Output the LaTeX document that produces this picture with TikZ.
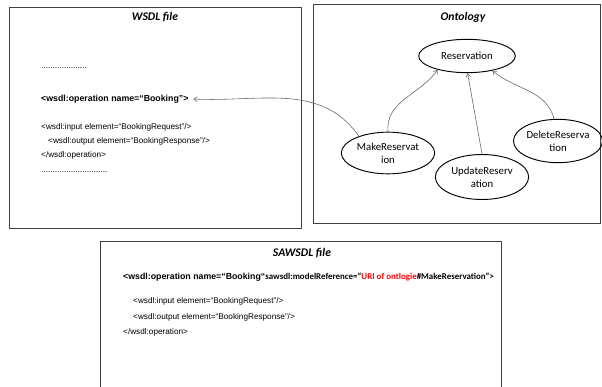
\documentclass[tikz,border=0pt]{standalone}
\usepackage{fontspec}
\setmainfont{Liberation Sans}
\newfontfamily\calib{Carlito}
\usetikzlibrary{arrows.meta}
\usetikzlibrary{shapes.geometric}

\begin{document}
\begin{tikzpicture}[x=0.03cm,y=-0.03cm,
  frame/.style={draw=black!75,line width=.7pt},
  title/.style={font=\calib\bfseries\itshape\fontsize{10}{12}\selectfont},
  code/.style={anchor=west,inner sep=0pt,font=\fontsize{7}{8}\selectfont},
  boldcode/.style={code,font=\bfseries\fontsize{7.5}{9}\selectfont},
  concept/.style={ellipse,draw,line width=.8pt,inner sep=0pt,align=center,font=\calib\fontsize{9.2}{11}\selectfont,minimum width=2.8cm,minimum height=1.25cm},
  link/.style={draw=black!60,line width=.5pt,-{Straight Barb[length=3pt,width=4pt]}}]
\useasboundingbox (0,0) rectangle (602,387);

\draw[frame] (9,7) rectangle (301,228);
\draw[frame] (313,4) rectangle (600,223);
\draw[frame] (100,392) -- (100,241) -- (501,241) -- (501,392);

\node[title] (wtitle) at (155,17) {WSDL file};
\node[title] (otitle) at (463,17) {Ontology};
\node[title] (stitle) at (302,253) {SAWSDL file};

\node[code] (wdots1) at (41,68) {....................};
\node[boldcode] (wop) at (41,99) {<wsdl:operation name=“Booking”>};
\node[code] (win) at (41,127) {<wsdl:input element=“BookingRequest”/>};
\node[code] (wout) at (48,141) {<wsdl:output element=“BookingResponse”/>};
\node[code] (wend) at (41,155) {</wsdl:operation>};
\node[code] (wdots2) at (41,172) {.............................};

\node[concept,minimum width=2.9cm,minimum height=1cm] (resv) at (467,56) {Reservation};
\node[concept] (make) at (388,153) {MakeReservat\\ion};
\node[concept,minimum height=1.35cm] (update) at (482,177) {UpdateReserv\\ation};
\node[concept,minimum width=2.65cm,minimum height=1.3cm] (delete) at (558,141) {DeleteReserva\\tion};

\draw[link] (make.north) to[out=95,in=235] (resv.205);
\draw[link] (update.north) to[out=100,in=280] (resv.272);
\draw[link] (delete.100) to[out=105,in=320] (resv.330);
\draw[link] (make.150) to[out=125,in=-3] ([xshift=4pt]wop.east);

\node[code] (sop) at (123,277) {{\bfseries\fontsize{7.5}{9}\selectfont <wsdl:operation name=“Booking“}{\calib\bfseries\fontsize{7.6}{9}\selectfont sawsdl:modelReference=“\textcolor{red}{URI of ontlogie}\#MakeReservation”>}};
\node[code] (sin) at (133,301) {<wsdl:input element=“BookingRequest”/>};
\node[code] (sout) at (133,317) {<wsdl:output element=“BookingResponse”/>};
\node[code] (send) at (123,332) {</wsdl:operation>};

\end{tikzpicture}
\end{document}
